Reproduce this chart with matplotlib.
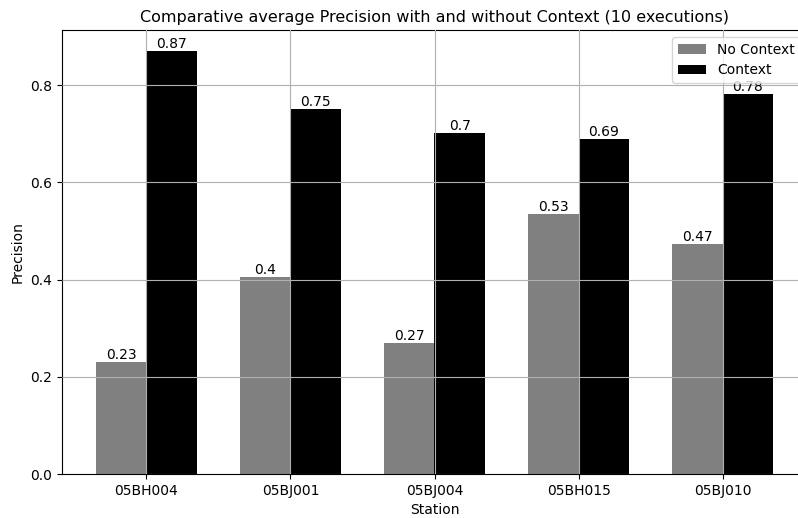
import matplotlib
matplotlib.use("Agg")
import matplotlib.pyplot as plt
import numpy as np

stations = ["05BH004", "05BJ001", "05BJ004", "05BH015", "05BJ010"]
no_context = [0.231, 0.405, 0.269, 0.534, 0.474]
context = [0.870, 0.750, 0.702, 0.690, 0.781]
no_context_labels = ["0.23", "0.4", "0.27", "0.53", "0.47"]
context_labels = ["0.87", "0.75", "0.7", "0.69", "0.78"]

fig = plt.figure(figsize=(7.98, 5.18), dpi=100)
ax = fig.add_axes([62/798, 1-474/518, (807-62)/798, (474-30)/518])

x = np.arange(len(stations))
w = 0.35
b1 = ax.bar(x - w/2, no_context, w, color="grey", label="No Context")
b2 = ax.bar(x + w/2, context, w, color="black", label="Context")
ax.bar_label(b1, labels=no_context_labels)
ax.bar_label(b2, labels=context_labels)

ax.set_xticks(x)
ax.set_xticklabels(stations)
ax.set_xlabel("Station")
ax.set_ylabel("Precision")
ax.set_title("Comparative average Precision with and without Context (10 executions)", fontsize=11.5)
ax.grid(True)
ax.set_axisbelow(False)
ax.legend(loc="upper right")

fig.savefig("out.png", dpi=100)
